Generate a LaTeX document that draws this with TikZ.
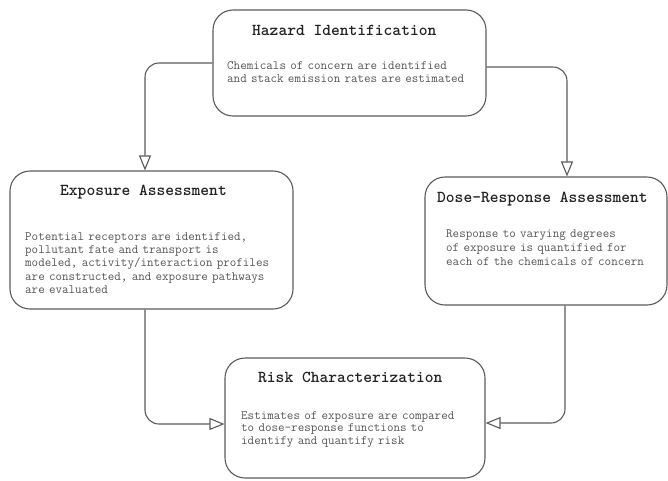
\documentclass[tikz,border=0pt]{standalone}
\usepackage{fontspec}
\usetikzlibrary{arrows.meta}
\definecolor{boxline}{HTML}{5A5A5A}
\definecolor{bodytext}{HTML}{555555}
\definecolor{titletext}{HTML}{222222}
\tikzset{
  stagebox/.style={draw=boxline, line width=1.1pt, rounded corners=20pt, inner sep=0pt},
  titletxt/.style={anchor=base west, inner sep=0pt, text=titletext,
    font=\ttfamily\bfseries\fontsize{16.7}{18}\selectfont},
  bodytxt/.style={anchor=base west, inner sep=0pt, text=bodytext, align=left, text width=300pt,
    font=\ttfamily\fontsize{12.7}{13.4}\selectfont},
  conn/.style={draw=boxline, line width=1.1pt, rounded corners=14pt,
    -{Triangle[open, length=15pt, width=12pt, line width=1.1pt]}}
}
\begin{document}
\begin{tikzpicture}[x=1pt, y=-1pt]
\useasboundingbox (0,0) rectangle (668,480);
% boxes
\node[stagebox, minimum width=273pt, minimum height=106pt] (haz) at (349.5,63) {};
\node[stagebox, minimum width=283pt, minimum height=138pt] (expo) at (151.5,240) {};
\node[stagebox, minimum width=242pt, minimum height=128pt] (dose) at (546,241) {};
\node[stagebox, minimum width=260pt, minimum height=120pt] (risk) at (355,418) {};
% titles
\node[titletxt] (hazt) at (252,35) {Hazard Identification};
\node[titletxt] (expot) at (60,195) {Exposure Assessment};
\node[titletxt] (doset) at (437,202) {Dose-Response Assessment};
\node[titletxt] (riskt) at (258,382) {Risk Characterization};
% bodies
\node[bodytxt] (hazb) at (227,69) {Chemicals of concern are identified\\and stack emission rates are estimated};
\node[bodytxt] (expob) at (25,240) {Potential receptors are identified,\\pollutant fate and transport is\\modeled, activity/interaction profiles\\are constructed, and exposure pathways\\are evaluated};
\node[bodytxt, font=\ttfamily\fontsize{12.7}{14.2}\selectfont] (doseb) at (446,237) {Response to varying degrees\\of exposure is quantified for\\each of the chemicals of concern};
\node[bodytxt, font=\ttfamily\fontsize{12.7}{12.8}\selectfont] (riskb) at (241,419) {Estimates of exposure are compared\\to dose-response functions to\\identify and quantify risk};
% connectors
\draw[conn] (haz.west) -| ([xshift=-6.5pt]expo.north);
\draw[conn] ([yshift=-4pt]haz.east) -| ([xshift=21pt]dose.north);
\draw[conn] ([xshift=-6.5pt]expo.south) |- ([yshift=-6pt]risk.west);
\draw[conn] ([xshift=19pt]dose.south) |- ([yshift=-5pt]risk.east);
\end{tikzpicture}
\end{document}
